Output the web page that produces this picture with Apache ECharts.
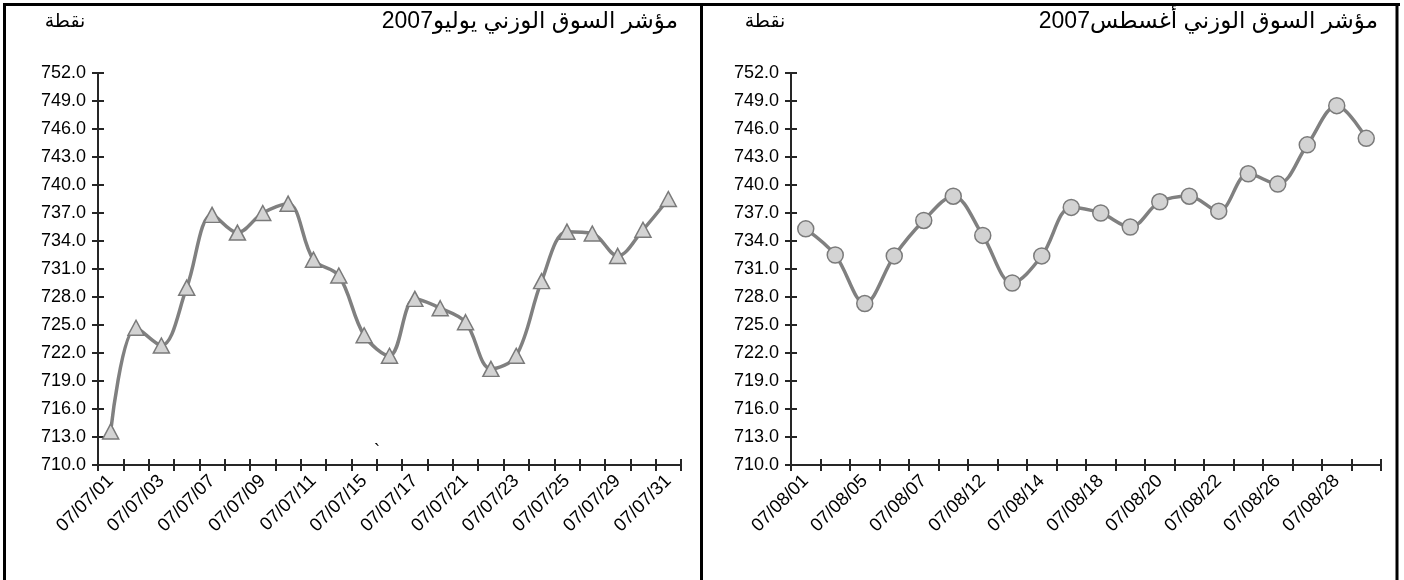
<!DOCTYPE html>
<html><head><meta charset="utf-8">
<script src="https://cdn.jsdelivr.net/npm/echarts@6/dist/echarts.min.js"></script>
<style>html,body{margin:0;padding:0;background:#fff}#c{width:1404px;height:580px}</style>
</head><body><div id="c"></div>
<script>
// ---- data ----
const julyDates = ['07/07/01','07/07/02','07/07/03','07/07/04','07/07/07','07/07/08','07/07/09','07/07/10','07/07/11','07/07/14','07/07/15','07/07/16','07/07/17','07/07/18','07/07/21','07/07/22','07/07/23','07/07/24','07/07/25','07/07/28','07/07/29','07/07/30','07/07/31'];
const julyValues = [713.6,724.7,722.8,729.0,736.8,734.9,737.0,738.0,732.0,730.3,723.9,721.7,727.8,726.8,725.3,720.3,721.7,729.7,735.0,734.8,732.4,735.2,738.5];
const augDates = ['07/08/01','07/08/04','07/08/05','07/08/06','07/08/07','07/08/08','07/08/12','07/08/13','07/08/14','07/08/15','07/08/18','07/08/19','07/08/20','07/08/21','07/08/22','07/08/25','07/08/26','07/08/27','07/08/28','07/08/29'];
const augValues = [735.3,732.5,727.3,732.4,736.2,738.8,734.6,729.5,732.4,737.6,737.0,735.5,738.2,738.8,737.2,741.2,740.1,744.3,748.5,745.0];
const yMin = 710, yMax = 752, yStep = 3;
const titleJuly = 'مؤشر السوق الوزني يوليو2007';
const titleAug = 'مؤشر السوق الوزني أغسطس2007';
const unitLabel = 'نقطة';

// ---- chart ----
const FONT = '"Liberation Sans", Arial, "DejaVu Sans", sans-serif';
const AX = '#262626';
const chart = echarts.init(document.getElementById('c'), null, {renderer: 'canvas'});

const grids = [
  {left: 98, right: 723, top: 73, bottom: 115, outerBoundsMode: 'none'},
  {left: 791, right: 23, top: 73, bottom: 115, outerBoundsMode: 'none'}
];
const dateSets = [julyDates, augDates];
const xAxes = [], yAxes = [];
dateSets.forEach((d, i) => {
  xAxes.push({
    type: 'category', gridIndex: i, data: d, boundaryGap: true,
    axisLine: {show: true, lineStyle: {color: AX, width: 2}},
    axisTick: {show: true, interval: 0, length: 6, inside: false, lineStyle: {color: AX, width: 2}},
    axisLabel: {interval: 1, rotate: 45, margin: 13, fontSize: 18.5, color: '#000', fontFamily: FONT},
    splitLine: {show: false}
  });
  xAxes.push({
    type: 'category', gridIndex: i, data: d, boundaryGap: true, position: 'bottom',
    axisLine: {show: false},
    axisTick: {show: true, interval: 0, length: 6, inside: true, lineStyle: {color: AX, width: 2}},
    axisLabel: {show: false}, splitLine: {show: false}
  });
  yAxes.push({
    type: 'value', gridIndex: i, min: yMin, max: yMax, interval: yStep,
    axisLine: {show: true, lineStyle: {color: AX, width: 2}},
    axisTick: {show: true, length: 6, inside: false, lineStyle: {color: AX, width: 2}},
    axisLabel: {margin: 12, fontSize: 18, color: '#000', fontFamily: FONT, formatter: v => v.toFixed(1)},
    splitLine: {show: false}
  });
  yAxes.push({
    type: 'value', gridIndex: i, min: yMin, max: yMax, interval: yStep, position: 'left',
    axisLine: {show: false},
    axisTick: {show: true, length: 6, inside: true, lineStyle: {color: AX, width: 2}},
    axisLabel: {show: false}, splitLine: {show: false}
  });
});

const lineStyle = {color: '#808080', width: 3.5};
const itemStyle = {color: '#d3d3d3', borderColor: '#7a7a7a', borderWidth: 1.5};

function txt(x, y, text, size, align) {
  return {type: 'text', x: x, y: y, silent: true,
    style: {text: text, fontSize: size, fontFamily: FONT, fill: '#000', align: align, verticalAlign: 'middle'}};
}
const BW = 3;
function ln(x1, y1, x2, y2) {
  return {type: 'line', silent: true, shape: {x1, y1, x2, y2}, style: {stroke: '#000', lineWidth: BW}};
}

chart.setOption({
  animation: false,
  backgroundColor: '#fff',
  grid: grids,
  xAxis: xAxes,
  yAxis: yAxes,
  series: [
    {type: 'line', xAxisIndex: 0, yAxisIndex: 0, data: julyValues, smooth: 0.35,
     symbol: 'triangle', symbolSize: [16, 15], showAllSymbol: true, lineStyle, itemStyle, z: 3},
    {type: 'line', xAxisIndex: 2, yAxisIndex: 2, data: augValues, smooth: 0.35,
     symbol: 'circle', symbolSize: 16, showAllSymbol: true, lineStyle, itemStyle, z: 3}
  ],
  graphic: [
    ln(3, 4.5, 1400, 4.5),
    ln(4.5, 3, 4.5, 580),
    ln(701.5, 3, 701.5, 580),
    ln(1397, 3, 1397, 580),
    txt(678, 22, '\u202B' + titleJuly + '\u202C', 23, 'right'),
    txt(1378, 22, '\u202B' + titleAug + '\u202C', 23, 'right'),
    txt(65, 22, unitLabel, 19, 'center'),
    txt(765, 22, unitLabel, 19, 'center'),
    txt(377, 452, '`', 18, 'center')
  ]
});
</script>
</body></html>
